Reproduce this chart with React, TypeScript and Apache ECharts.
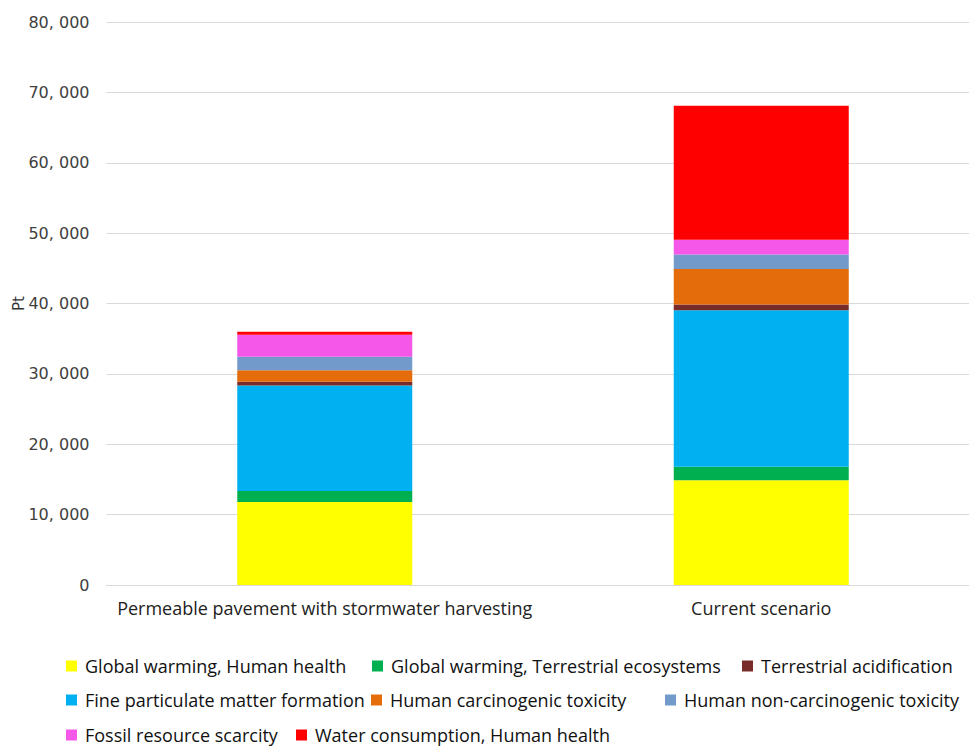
import React, { useEffect, useRef } from "react";
import * as echarts from "echarts";

const categories = ["Permeable pavement with stormwater harvesting", "Current scenario"];
// Legend order
const seriesNames = [
  "Global warming, Human health",
  "Global warming, Terrestrial ecosystems",
  "Terrestrial acidification",
  "Fine particulate matter formation",
  "Human carcinogenic toxicity",
  "Human non-carcinogenic toxicity",
  "Fossil resource scarcity",
  "Water consumption, Human health",
];
const globalWarmingHuman = [11800, 14900];
const globalWarmingTerrestrial = [1550, 1900];
const terrestrialAcidification = [520, 800];
const fineParticulate = [15000, 22250];
const humanCarcinogenic = [1650, 5050];
const humanNonCarcinogenic = [1900, 2080];
const fossilScarcity = [3150, 2080];
const waterConsumption = [400, 19050];
const seriesValues = [
  globalWarmingHuman,
  globalWarmingTerrestrial,
  terrestrialAcidification,
  fineParticulate,
  humanCarcinogenic,
  humanNonCarcinogenic,
  fossilScarcity,
  waterConsumption,
];
// Stacking order from bottom (indices into seriesNames)
const stackOrder = [0, 1, 3, 2, 4, 5, 6, 7];
const colors = ["#FFFF00", "#00B050", "#772C2A", "#00B0F0", "#E46C0A", "#729ACA", "#F558E8", "#FF0000"];
const yTicks = [0, 10000, 20000, 30000, 40000, 50000, 60000, 70000, 80000];

const legendPos = [
  [61, 651], [367, 651], [737, 651],
  [61, 685], [366, 685], [660, 685],
  [61, 720], [291, 720],
];

export default function App() {
  const ref = useRef<HTMLDivElement>(null);
  useEffect(() => {
    if (!ref.current) return;
    const chart = echarts.init(ref.current, undefined, { renderer: "svg" });
    const textFont = "'Open Sans', sans-serif";
    chart.setOption({
      animation: false,
      grid: {
        left: 106.5,
        top: 22,
        width: 873,
        height: 563,
        containLabel: false,
        outerBoundsMode: "none",
      },
      xAxis: {
        type: "category",
        data: categories,
        axisLine: { lineStyle: { color: "#d9d9d9", width: 1 } },
        axisTick: { show: false },
        axisLabel: { color: "#222", fontSize: 18, fontFamily: textFont, margin: 14, interval: 0 },
      },
      yAxis: {
        type: "value",
        min: yTicks[0],
        max: yTicks[yTicks.length - 1],
        interval: 10000,
        name: "Pt",
        nameLocation: "middle",
        nameGap: 80,
        nameMoveOverlap: false,
        nameTextStyle: { color: "#333", fontSize: 15, fontFamily: "'DejaVu Sans', sans-serif" },
        axisLine: { show: false },
        axisTick: { show: false },
        splitLine: { lineStyle: { color: "#d9d9d9", width: 1 } },
        axisLabel: {
          color: "#404040",
          fontSize: 16,
          margin: 17,
          fontFamily: "'DejaVu Sans', sans-serif",
          formatter: (v: number) => {
            if (v === 0) return "0";
            const s = String(v);
            return s.slice(0, s.length - 3) + ", " + s.slice(s.length - 3);
          },
        },
      },
      legend: seriesNames.map((n, i) => ({
        data: [n],
        left: legendPos[i][0],
        top: legendPos[i][1],
        itemWidth: 11,
        itemHeight: 11,
        itemGap: 0,
        icon: "rect",
        textStyle: {
          color: "#111",
          fontSize: 18,
          lineHeight: 20,
          fontFamily: textFont,
          padding: [0, 0, 0, 3],
        },
        selectedMode: false,
      })),
      series: stackOrder.map((i) => ({
        name: seriesNames[i],
        type: "bar",
        stack: "total",
        barWidth: 175,
        data: seriesValues[i],
        itemStyle: { color: colors[i] },
      })),
    });
    return () => chart.dispose();
  }, []);
  return (
    <div style={{ position: "absolute", left: 0, top: 0, width: 969, height: 747, overflow: "hidden", background: "#fff" }}>
      <div ref={ref} style={{ width: 990, height: 747 }} />
    </div>
  );
}
